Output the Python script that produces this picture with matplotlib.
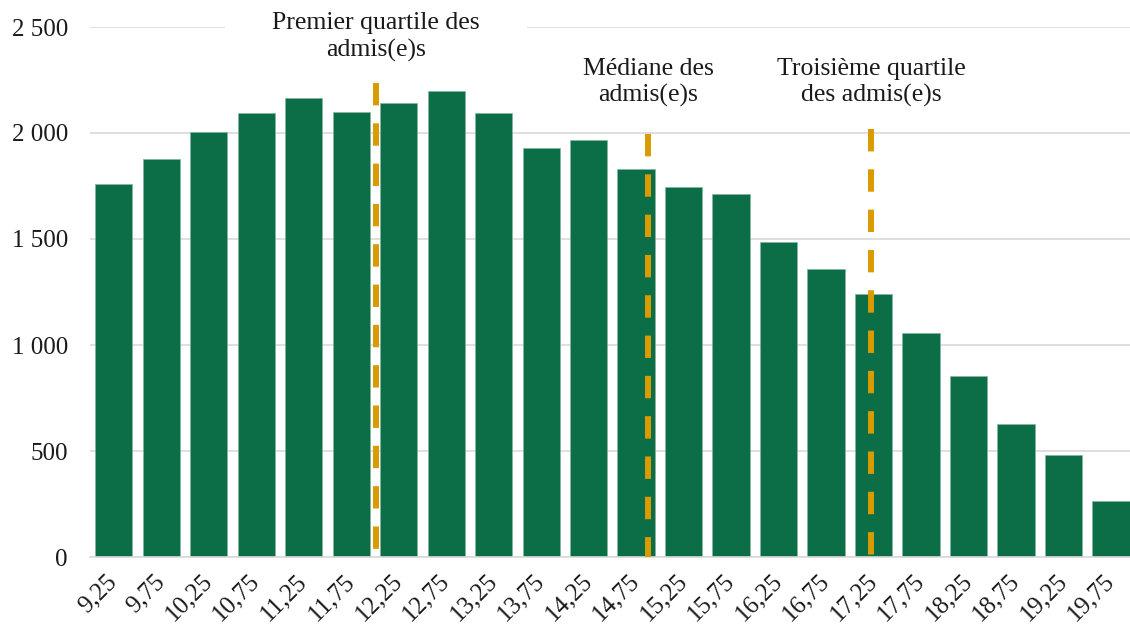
import matplotlib
matplotlib.use("Agg")
import matplotlib.pyplot as plt
import numpy as np

# ── data ──
grades = ["9,25", "9,75", "10,25", "10,75", "11,25", "11,75", "12,25", "12,75",
          "13,25", "13,75", "14,25", "14,75", "15,25", "15,75", "16,25", "16,75",
          "17,25", "17,75", "18,25", "18,75", "19,25", "19,75"]
counts = [1760, 1877, 2005, 2094, 2167, 2098, 2140, 2198, 2094, 1928, 1967,
          1830, 1745, 1711, 1487, 1357, 1241, 1057, 854, 627, 481, 264]

quartile_labels = ["Premier quartile des\nadmis(e)s",
                   "Médiane des\nadmis(e)s",
                   "Troisième quartile\ndes admis(e)s"]
quartile_grades = [12.01, 14.875, 17.225]
quartile_tops = [2236, 1995, 2020]
label_y = [2452, 2238, 2238]

yticks = [0, 500, 1000, 1500, 2000, 2500]
ytick_labels = ["0", "500", "1 000", "1 500", "2 000", "2 500"]

plt.rcParams["font.family"] = ["Liberation Serif", "DejaVu Serif"]

BAR = "#0c6e47"
GOLD = "#da9b00"
GRID = "#d9d9d9"
TEXT = "#1a1a1a"

fig = plt.figure(figsize=(11.3, 6.28), dpi=100)
ax = fig.add_axes([90 / 1130, 71 / 628, 1040 / 1130, 530 / 628])

x = np.arange(len(grades))
ax.bar(x, counts, width=0.785, color=BAR, edgecolor="#86b5a0", linewidth=0.5, zorder=2)

# quartile lines: grade -> category position
first_grade = float(grades[0].replace(",", "."))
for lab, g, top, ly in zip(quartile_labels, quartile_grades, quartile_tops, label_y):
    pos = (g - first_grade) / 0.5
    ax.plot([pos, pos], [top, 0], color=GOLD, linewidth=4.3,
            linestyle=(0, (3.75, 3.0)), zorder=4)
    bbox = None
    if lab.startswith("Premier"):
        bbox = dict(boxstyle="square,pad=1.85", facecolor="white", edgecolor="none")
    ax.text(pos, ly, lab, ha="center", va="center", fontsize=18.5, color=TEXT,
            linespacing=1.25, bbox=bbox, zorder=1.5, clip_on=False)

ax.set_xlim(-0.5, 21.4)
ax.set_ylim(0, 2500)
ax.set_xticks(x)
ax.set_xticklabels(grades, rotation=45, ha="right", va="center",
                   rotation_mode="anchor", fontsize=18, color=TEXT)
ax.set_yticks(yticks)
ax.set_yticklabels(ytick_labels, fontsize=18, color=TEXT)
ax.tick_params(axis="both", length=0)
ax.tick_params(axis="y", pad=16)
ax.tick_params(axis="x", pad=15)

ax.yaxis.grid(True, color=GRID, linewidth=1.2)
ax.set_axisbelow(True)
for side in ["left", "right", "top"]:
    ax.spines[side].set_visible(False)
ax.spines["bottom"].set_color(GRID)
ax.spines["bottom"].set_linewidth(1.2)

fig.savefig("out.png", dpi=100)
plt.close(fig)
